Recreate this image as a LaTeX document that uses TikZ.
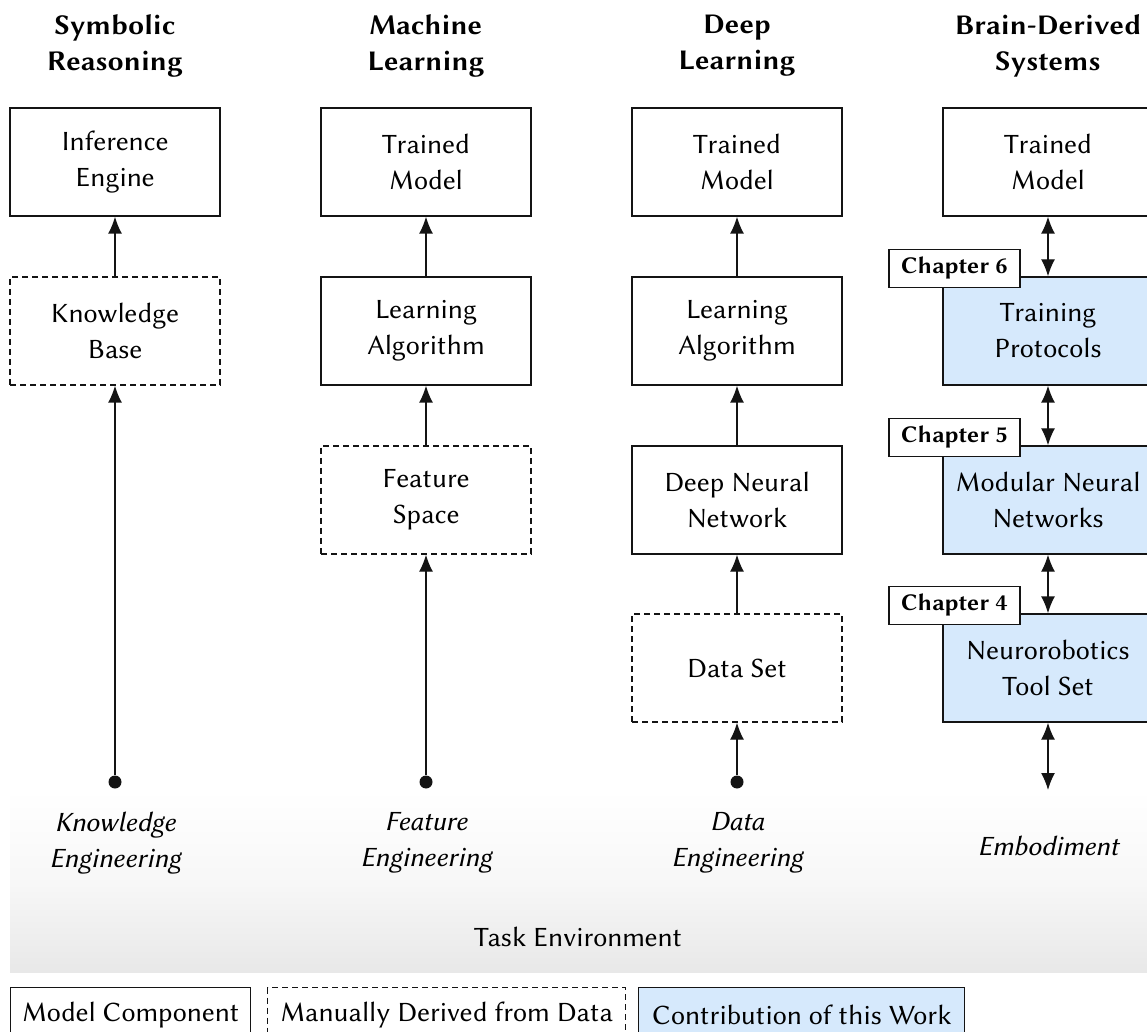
\documentclass[tikz,border=0pt]{standalone}
\usepackage{fontspec}
\setmainfont{Libertinus Sans}
\usetikzlibrary{arrows.meta,calc}
\definecolor{contrib}{RGB}{214,233,252}
\definecolor{ink}{RGB}{20,20,20}
\begin{document}
\begin{tikzpicture}[x=0.5pt,y=-0.5pt,
  font=\fontsize{14}{18}\selectfont,
  every node/.style={align=center, inner sep=0pt},
  comp/.style={draw=ink, line width=0.7pt, minimum width=105pt, minimum height=54pt},
  manual/.style={comp, dashed, dash pattern=on 3pt off 2pt},
  contribbox/.style={comp, fill=contrib},
  chapbox/.style={draw=ink, fill=white, line width=0.7pt, minimum width=65.5pt,
    minimum height=19pt, font=\fontsize{12}{14}\selectfont\bfseries},
  heading/.style={font=\fontsize{14.3}{18}\selectfont\bfseries},
  source/.style={font=\fontsize{14}{18}\selectfont\itshape},
  tip/.style={},
  link/.style={draw=ink, line width=0.7pt, -{Latex[length=8.5pt,width=7pt]}},
  dlink/.style={draw=ink, line width=0.7pt, {Latex[length=8.5pt,width=7pt]}-{Latex[length=8.5pt,width=7pt]}},
  dot/.style={circle, fill=ink, minimum size=6.5pt},
  legendbox/.style={draw=ink, line width=0.7pt, minimum height=27pt, anchor=north west}
]
\useasboundingbox (0,0) rectangle (1147,1032);
\clip (0,0) rectangle (1147,1032);

% task environment band
\shade[top color=white, bottom color=black!9, middle color=black!3] (10,790) rectangle (1170,972);
\node (env) at (578,937) {Task Environment};

% column headings
\node[heading] (h1) at (115,46) {Symbolic\\Reasoning};
\node[heading] (h2) at (426,46) {Machine\\Learning};
\node[heading] (h3) at (737,46) {Deep\\Learning};
\node[heading] (h4) at (1048,46) {Brain-Derived\\Systems};

% symbolic reasoning
\node[comp]   (ie) at (115,162) {Inference\\Engine};
\node[manual] (kb) at (115,331) {Knowledge\\Base};
\node[dot]    (d1) at (115,782) {};
\node[source] (s1) at (115,843) {Knowledge\\Engineering};
\draw[link] (kb) -- (ie);
\draw[link] (d1) -- (kb);

% machine learning
\node[comp]   (tm2) at (426,162) {Trained\\Model};
\node[comp]   (la2) at (426,331) {Learning\\Algorithm};
\node[manual] (fs)  at (426,500) {Feature\\Space};
\node[dot]    (d2)  at (426,782) {};
\node[source] (s2)  at (426,843) {Feature\\Engineering};
\draw[link] (la2) -- (tm2);
\draw[link] (fs) -- (la2);
\draw[link] (d2) -- (fs);

% deep learning
\node[comp]   (tm3) at (737,162) {Trained\\Model};
\node[comp]   (la3) at (737,331) {Learning\\Algorithm};
\node[comp]   (dnn) at (737,500) {Deep Neural\\Network};
\node[manual] (ds)  at (737,668) {Data Set};
\node[dot]    (d3)  at (737,782) {};
\node[source] (s3)  at (737,843) {Data\\Engineering};
\draw[link] (la3) -- (tm3);
\draw[link] (dnn) -- (la3);
\draw[link] (ds) -- (dnn);
\draw[link] (d3) -- (ds);

% brain-derived systems
\node[comp]       (tm4) at (1048,162) {Trained\\Model};
\node[contribbox] (tp)  at (1048,331) {Training\\Protocols};
\node[contribbox] (mnn) at (1048,500) {Modular Neural\\Networks};
\node[contribbox] (nts) at (1048,668) {Neurorobotics\\Tool Set};
\coordinate       (emb) at (1048,790);
\node[source]     (s4)  at (1048,846) {Embodiment};
\draw[dlink] (tm4) -- (tp);
\draw[dlink] (tp) -- (mnn);
\draw[dlink] (mnn) -- (nts);
\draw[dlink] (nts) -- (emb);

\node[chapbox] (c6) at ([xshift=6pt,yshift=4pt]tp.north west)  {Chapter 6};
\node[chapbox] (c5) at ([xshift=6pt,yshift=4pt]mnn.north west) {Chapter 5};
\node[chapbox] (c4) at ([xshift=6pt,yshift=4pt]nts.north west) {Chapter 4};

% legend
\node[legendbox, minimum width=120pt] (l1) at (10,987) {Model Component};
\node[legendbox, minimum width=179pt, dashed, dash pattern=on 3pt off 2pt] (l2) at (267,987) {Manually Derived from Data};
\node[legendbox, minimum width=163pt, fill=contrib] (l3) at (638,987) {Contribution of this Work};
\end{tikzpicture}
\end{document}
